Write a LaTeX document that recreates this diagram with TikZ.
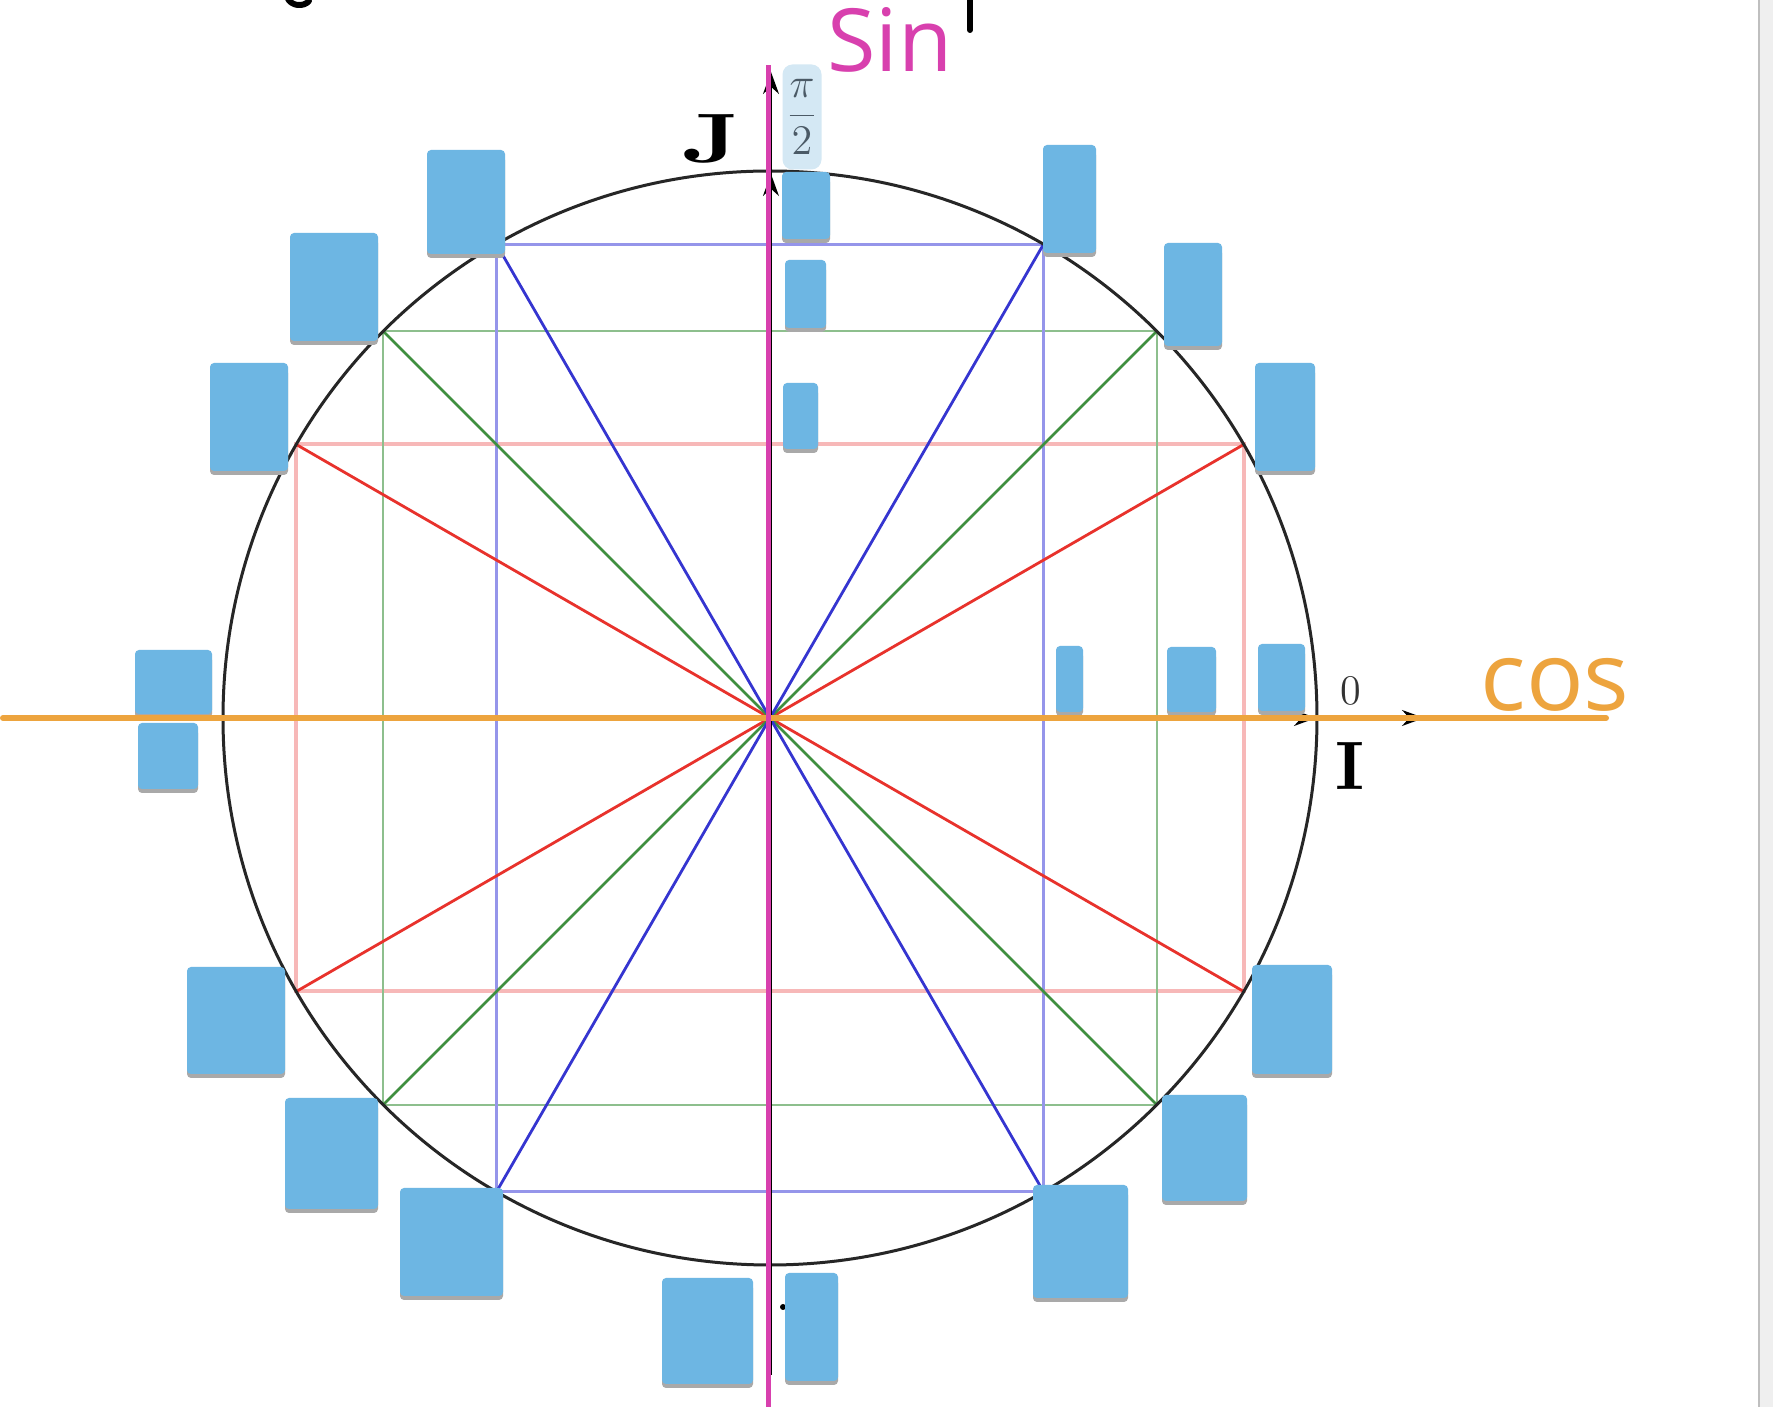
\documentclass[tikz,border=0pt]{standalone}
\usepackage{fontspec}
\usepackage{graphicx}
\newfontfamily\handfont{Open Sans}
\usepackage{tikz}
\usetikzlibrary{arrows.meta}
\definecolor{sinpink}{HTML}{D840AE}
\definecolor{cosorange}{HTML}{EDA43E}
\definecolor{patchblue}{HTML}{6DB6E3}
\definecolor{shadowgray}{HTML}{A9A9A9}
\definecolor{pihl}{HTML}{D4E8F4}
\definecolor{pitext}{HTML}{4B5A66}
\definecolor{redline}{HTML}{E8322C}
\definecolor{redbox}{HTML}{F7B8B8}
\definecolor{greenline}{HTML}{3F8F3F}
\definecolor{greenbox}{HTML}{8DBF8D}
\definecolor{blueline}{HTML}{3535D0}
\definecolor{bluebox}{HTML}{9595EA}
\definecolor{edgegray}{HTML}{EFEFEF}

\begin{document}
\begin{tikzpicture}[x=0.1mm,y=0.1mm,>={Stealth[length=2.2mm,width=1.6mm]},
  patch/.style={fill=patchblue,rounded corners=0.4mm},
  patchshadow/.style={fill=shadowgray,rounded corners=0.4mm},
  pen/.style={line width=0.6mm,line cap=round,line join=round}]
\useasboundingbox (0,0) rectangle (1773,1407);
\fill[white] (0,0) rectangle (1773,1407);
\fill[edgegray] (1759,0) rectangle (1773,1407);
\draw[black!25,line width=0.2mm] (1759,0) -- (1759,1407);

\coordinate (O) at (770,689);
\foreach \a in {30,45,60,120,135,150,210,225,240,300,315,330}
  \path (O) ++(\a:547) coordinate (p\a);

\draw[redbox,line width=0.4mm] (p210) rectangle (p30);
\draw[greenbox,line width=0.25mm] (p225) rectangle (p45);
\draw[bluebox,line width=0.25mm] (p240) rectangle (p60);
\draw[redline,line width=0.28mm] (p30) -- (p210) (p150) -- (p330);
\draw[greenline,line width=0.28mm] (p45) -- (p225) (p135) -- (p315);
\draw[blueline,line width=0.28mm] (p60) -- (p240) (p120) -- (p300);
\draw[black!85,line width=0.3mm] (O) circle [radius=54.7mm];

\coordinate (xstart) at (200,689);
\coordinate (xend) at (1424,689);
\coordinate (xunit) at (1316,689);
\coordinate (ybot) at (771,32);
\coordinate (ytop) at (771,1335);
\coordinate (yunit) at (771,1233);
\draw[->,line width=0.15mm] (xstart) -- (xend);
\draw[->,line width=0.15mm] (O) -- (xunit);
\draw[->,line width=0.15mm] (ybot) -- (ytop);
\draw[->,line width=0.15mm] (O) -- (yunit);
\fill (783,100) circle [radius=0.3mm];

\node (halfpi) [fill=pihl, rounded corners=1mm, minimum width=3.9mm,
minimum height=10.5mm, inner sep=0pt, text=pitext] at (802,1290)
{\fontsize{13}{15}\selectfont$\displaystyle\frac{\pi}{2}$};
\node (zero) [text=black!80] at (1351,716) {\fontsize{12}{14}\selectfont 0};

\foreach \xa/\ya/\xb/\yb in {782/1164/830/1235, 785/1075/826/1147,
  783/954/818/1024, 427/1149/505/1257, 290/1062/378/1174, 210/932/288/1044,
  135/689/212/757, 138/614/198/684, 187/329/285/440, 285/194/378/309,
  400/107/503/219, 662/19/753/129, 785/22/838/134, 1033/105/1128/222,
  1162/202/1247/312, 1252/329/1332/442, 1255/932/1315/1044,
  1164/1057/1222/1164, 1043/1150/1096/1262, 1056/691/1083/761,
  1167/691/1216/760, 1258/692/1305/763}
{
  \fill[patchshadow] (\xa,\ya) rectangle (\xb,\yb-6);
  \fill[patch] (\xa,\ya+4) rectangle (\xb,\yb);
}

\coordinate (cosstart) at (3,689);
\coordinate (cosend) at (1606,689);
\coordinate (sinstart) at (768,-10);
\coordinate (sinend) at (768,1342);
\draw[cosorange,line width=0.6mm,line cap=round] (cosstart) -- (cosend);
\draw[sinpink,line width=0.5mm] (sinstart) -- (sinend);

\node (sinlabel) [text=sinpink, inner sep=0pt] at (890,1367)
{\resizebox{12.5mm}{6.4mm}{\handfont Sin}};
\node (coslabel) [text=cosorange, inner sep=0pt] at (1555,722)
{\resizebox{14.9mm}{!}{\handfont cos}};
\node (quadJ) [inner sep=0pt] at (711,1268)
{\resizebox{5.8mm}{4.8mm}{\bfseries J}};
\node (quadI) [inner sep=0pt] at (1350,641)
{\resizebox{2.9mm}{4.7mm}{\bfseries I}};

\draw[pen] (970,1412) -- (970,1377);
\draw[pen] (287,1410) .. controls (291,1400) and (304,1400) .. (309,1406);
\end{tikzpicture}
\end{document}
